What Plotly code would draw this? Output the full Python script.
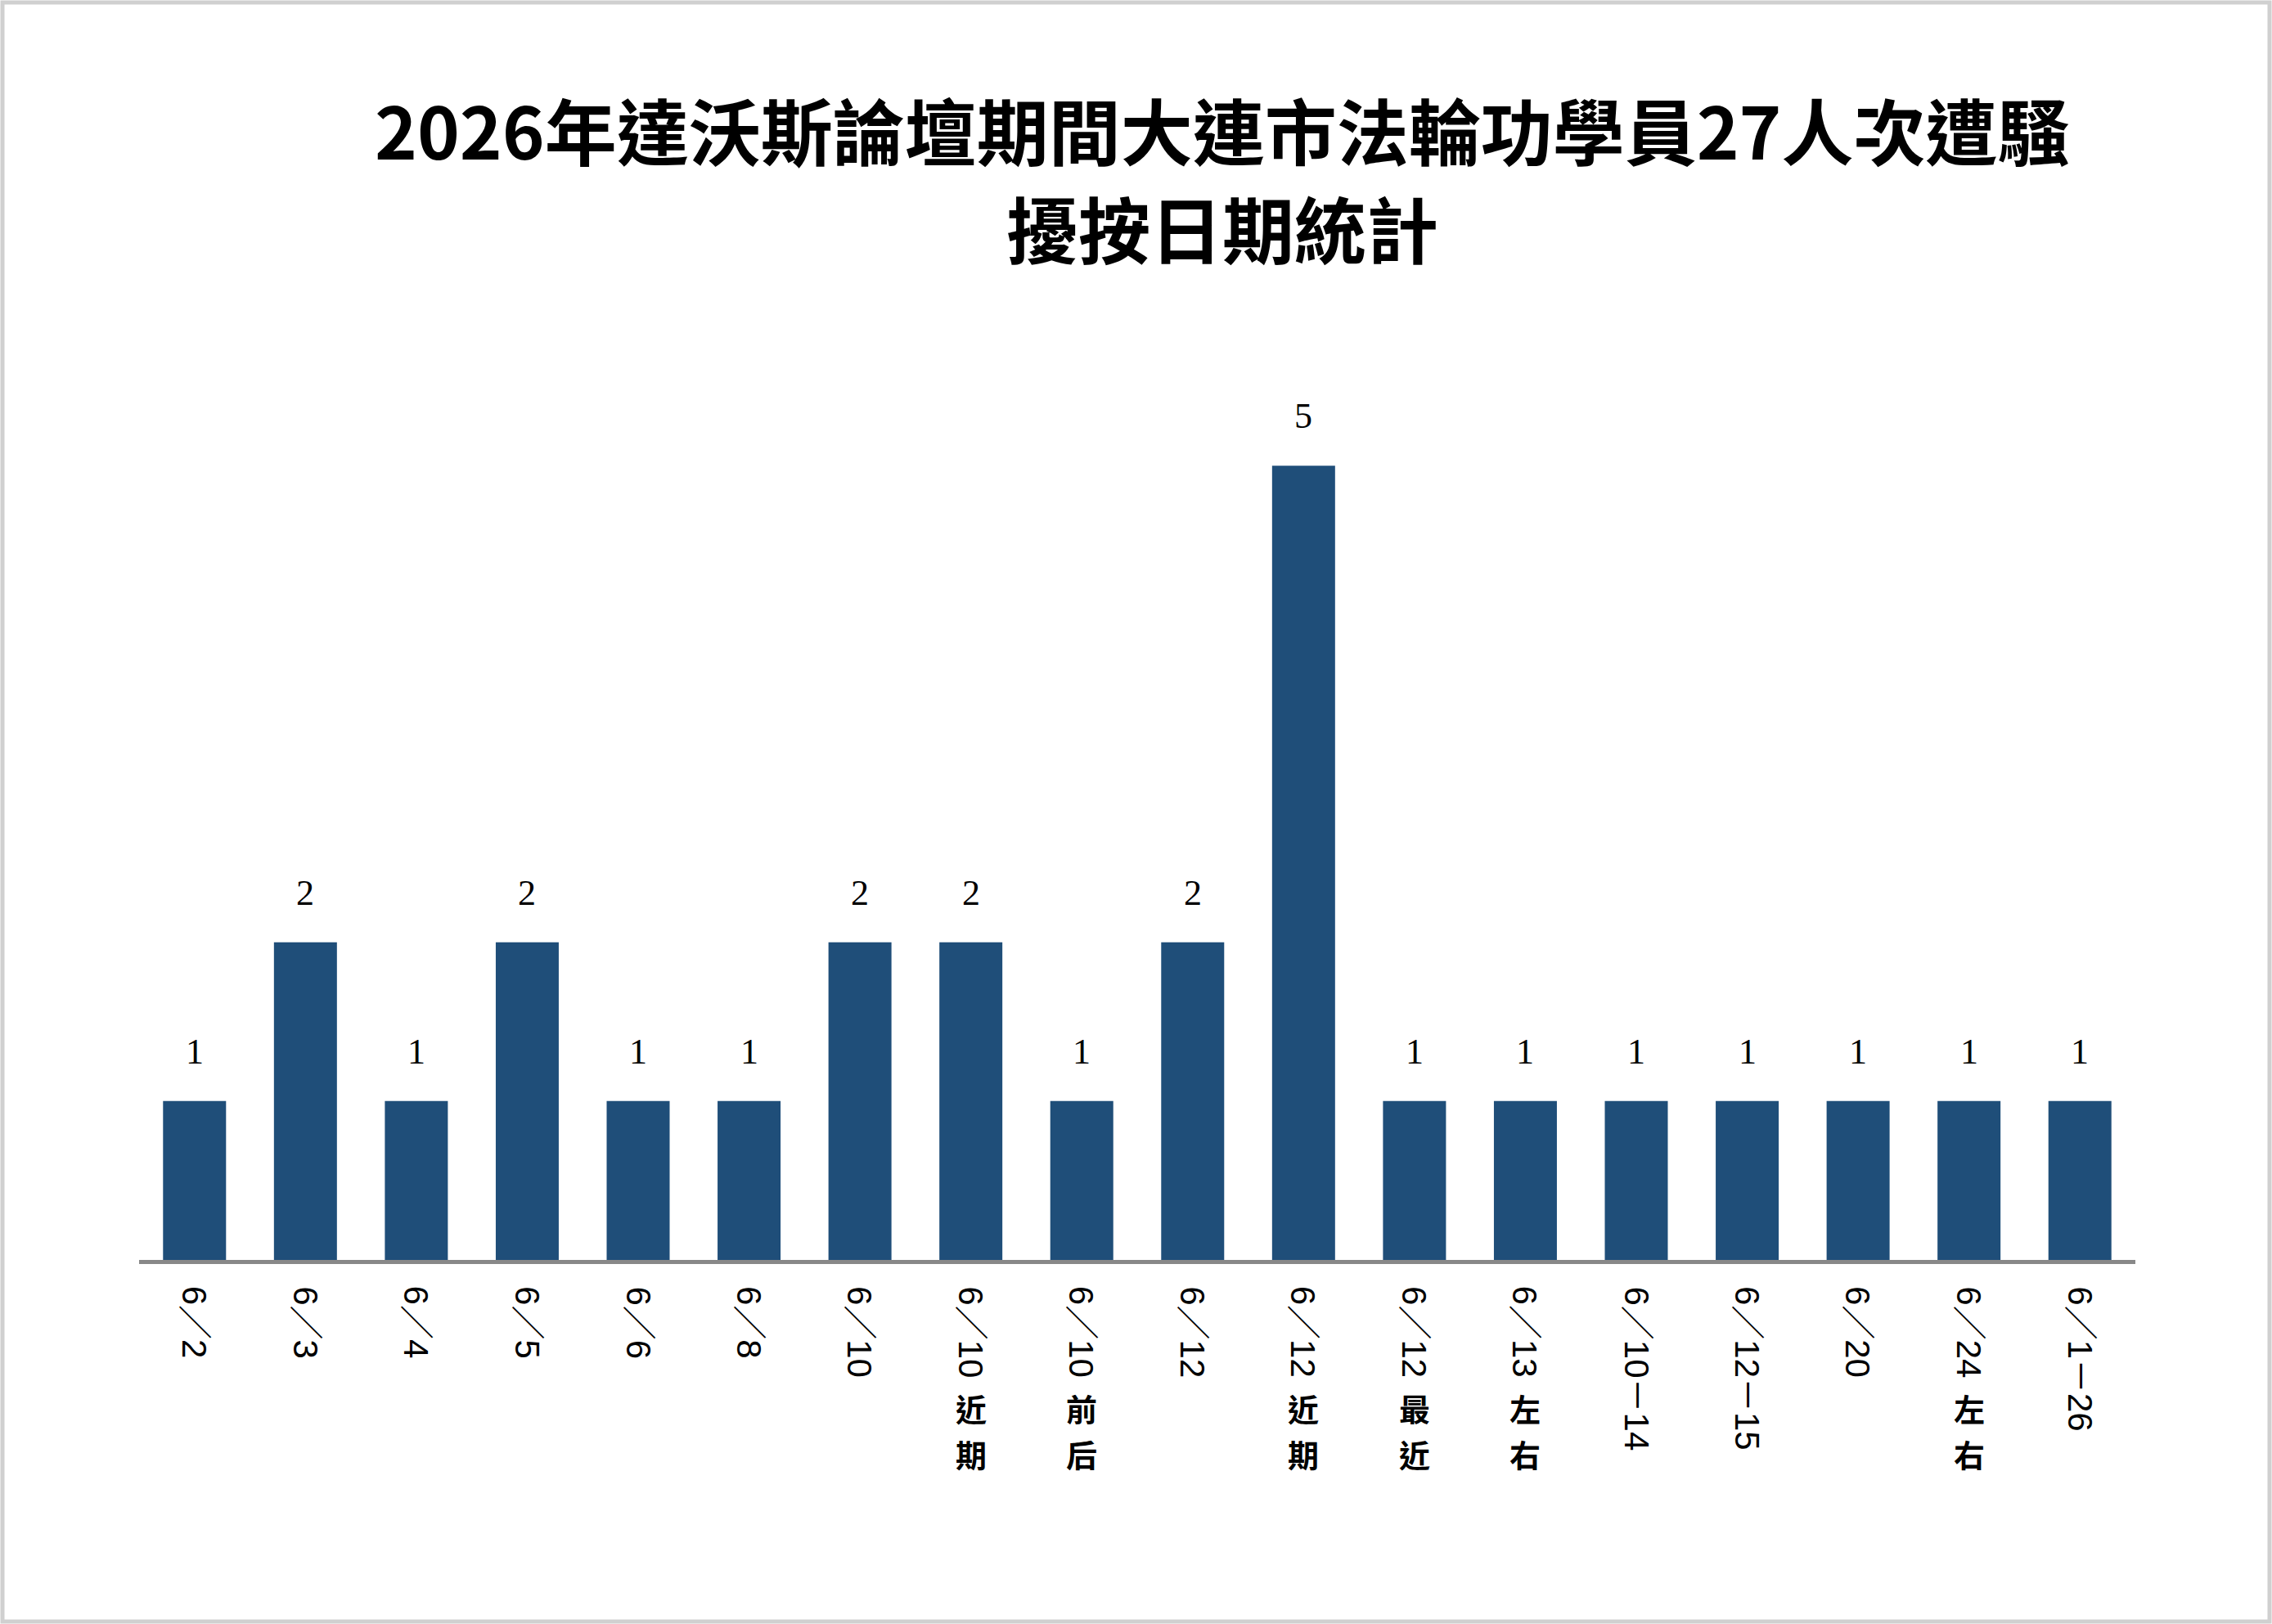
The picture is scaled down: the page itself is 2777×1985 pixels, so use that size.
import plotly.graph_objects as go

# ---- data ----
date_labels = ["6／2", "6／3", "6／4", "6／5", "6／6", "6／8", "6／10", "6／10", "6／10",
               "6／12", "6／12", "6／12", "6／13", "6／10－14", "6／12－15", "6／20", "6／24", "6／1－26"]
note_labels = ["", "", "", "", "", "", "", "近期", "前后",
               "", "近期", "最近", "左右", "", "", "", "左右", ""]
values = [1, 2, 1, 2, 1, 1, 2, 2, 1, 2, 5, 1, 1, 1, 1, 1, 1, 1]
categories = [d + n for d, n in zip(date_labels, note_labels)]
title_line1 = "2026年達沃斯論壇期間大連市法輪功學員27人次遭騷"
title_line2 = "擾按日期統計"

# ---- layout constants ----
W, H = 2777, 1985
L, R, T, B = 170, 167, 375, 445
pw, ph = W - L - R, H - T - B
BAR_COLOR = "#1F4E79"
CJK = "Noto Sans CJK TC"

fig = go.Figure(go.Bar(
    x=categories, y=values,
    marker=dict(color=BAR_COLOR, line=dict(width=0)),
    hoverinfo="skip",
))

ann = []
# value labels
for c, v in zip(categories, values):
    ann.append(dict(x=c, y=v, xref="x", yref="y", text=str(v), showarrow=False,
                    xanchor="center", yanchor="bottom", yshift=34,
                    font=dict(family="Liberation Serif", size=44, color="black")))
# category labels (vertical writing: date part rotated, CJK part stacked upright)
for c, d, n in zip(categories, date_labels, note_labels):
    ann.append(dict(x=c, y=0, xref="x", yref="paper", text=d, textangle=90,
                    showarrow=False, xanchor="center", yanchor="top", yshift=-30,
                    font=dict(family="Liberation Sans, " + CJK, size=42, color="black")))
    for i, ch in enumerate(n):
        ann.append(dict(x=c, y=0, xref="x", yref="paper", text=ch,
                        showarrow=False, xanchor="center", yanchor="top",
                        yshift=-152 - i * 56, borderpad=0,
                        font=dict(family=CJK, size=38, color="black", weight=700)))
# title lines
title_x = (1494 - L) / pw
for txt, ypx in [(title_line1, 156), (title_line2, 276)]:
    ann.append(dict(x=title_x, y=(H - B - ypx) / ph, xref="paper", yref="paper",
                    text=txt, showarrow=False, xanchor="center", yanchor="middle",
                    font=dict(family=CJK, size=88, color="black", weight=700)))

# outer light-grey frame
inset = 3
fig.add_shape(type="rect", xref="paper", yref="paper",
              x0=(-L + inset) / pw, x1=1 + (R - inset) / pw,
              y0=(-B + inset) / ph, y1=1 + (T - inset) / ph,
              line=dict(color="#d0d0d0", width=5), fillcolor="rgba(0,0,0,0)", layer="above")

fig.update_layout(
    width=W, height=H,
    margin=dict(l=L, r=R, t=T, b=B),
    paper_bgcolor="white", plot_bgcolor="white",
    bargap=0.432,
    showlegend=False,
    annotations=ann,
    xaxis=dict(range=[-0.5, len(categories) - 0.5], showline=True, linecolor="#888888",
               linewidth=5, showticklabels=False, ticks="", showgrid=False, zeroline=False),
    yaxis=dict(range=[0, 6], visible=False, showgrid=False, zeroline=False),
)

fig.write_html("out.html", config={"displayModeBar": False},
               post_script="document.body.style.margin='0';document.body.style.overflow='hidden';")
